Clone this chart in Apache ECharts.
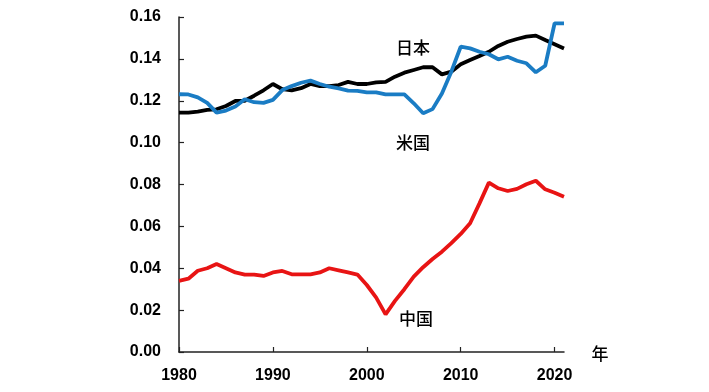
<!DOCTYPE html>
<html><head><meta charset="utf-8">
<script src="https://cdn.jsdelivr.net/npm/echarts@6/dist/echarts.min.js"></script>
<style>html,body{margin:0;padding:0;background:#fff}#c{width:709px;height:392px}</style>
</head><body><div id="c"></div>
<script>
const years = [];
for (let y = 1980; y <= 2021; y++) years.push(y);
const japan = [0.1143,0.1143,0.1148,0.1156,0.1159,0.1175,0.1199,0.1200,0.1224,0.1250,0.1280,0.1255,0.1250,0.1260,0.1280,0.1270,0.1270,0.1275,0.1290,0.1280,0.1280,0.1288,0.1290,0.1315,0.1334,0.1347,0.1360,0.1360,0.1326,0.1339,0.1374,0.1395,0.1414,0.1434,0.1462,0.1482,0.1495,0.1506,0.1511,0.1490,0.1470,0.1450];
const usa = [0.1231,0.1230,0.1216,0.1190,0.1143,0.1153,0.1172,0.1207,0.1193,0.1190,0.1204,0.1251,0.1270,0.1286,0.1296,0.1280,0.1267,0.1259,0.1248,0.1247,0.1240,0.1240,0.1230,0.1230,0.1230,0.1188,0.1140,0.1160,0.1235,0.1339,0.1458,0.1450,0.1434,0.1422,0.1398,0.1410,0.1391,0.1379,0.1336,0.1367,0.1570,0.1570];
const china = [0.0340,0.0350,0.0388,0.0400,0.0420,0.0400,0.0380,0.0370,0.0370,0.0363,0.0380,0.0387,0.0371,0.0371,0.0371,0.0380,0.0400,0.0390,0.0380,0.0370,0.0320,0.0260,0.0180,0.0244,0.0300,0.0360,0.0405,0.0444,0.0479,0.0520,0.0564,0.0615,0.0710,0.0809,0.0782,0.0769,0.0779,0.0801,0.0818,0.0777,0.0761,0.0742];
const yTicks = ['0.00','0.02','0.04','0.06','0.08','0.10','0.12','0.14','0.16'];
const xTicks = [1980,1990,2000,2010,2020];
const labels = {japan:'日本', usa:'米国', china:'中国', unit:'年'};

const pair = arr => years.map((y,i)=>[y,arr[i]]);
const chart = echarts.init(document.getElementById('c'), null, {renderer:'canvas'});
const tf = {fontFamily:'"Liberation Sans", Arial, sans-serif', fontWeight:'bold', fontSize:16, color:'#000'};
const cjk = {fontFamily:'"Noto Sans CJK JP", sans-serif', fontSize:17, fontWeight:500, fill:'#000'};
chart.setOption({
  animation:false,
  grid:{left:179, right:145, top:17, bottom:40},
  xAxis:{type:'value', min:1980, max:2021, interval:10,
    axisLine:{lineStyle:{color:'#222', width:1.5}},
    axisTick:{inside:true, length:5, lineStyle:{color:'#222', width:1.2}},
    splitLine:{show:false},
    axisLabel:Object.assign({margin:16, showMaxLabel:false, formatter:v=>xTicks.includes(v)?String(v):''}, tf)},
  yAxis:{type:'value', min:0, max:0.16, interval:0.02,
    axisLine:{show:true, lineStyle:{color:'#222', width:1.5}},
    axisTick:{show:true, inside:true, length:5, lineStyle:{color:'#222', width:1.2}},
    splitLine:{show:false},
    axisLabel:Object.assign({margin:18, formatter:v=>yTicks[Math.round(v/0.02)]}, tf)},
  series:[
    {type:'line', data:pair(japan), showSymbol:false, lineStyle:{color:'#000', width:3.8}, z:2},
    {type:'line', data:pair(usa), showSymbol:false, lineStyle:{color:'#1a7cc4', width:3.8}, z:3},
    {type:'line', data:pair(china), showSymbol:false, lineStyle:{color:'#e81414', width:3.8}, z:3}
  ],
  graphic:[
    {type:'text', x:413, y:48, style:Object.assign({text:labels.japan, align:'center', verticalAlign:'middle'}, cjk)},
    {type:'text', x:413, y:143, style:Object.assign({text:labels.usa, align:'center', verticalAlign:'middle'}, cjk)},
    {type:'text', x:416, y:319, style:Object.assign({text:labels.china, align:'center', verticalAlign:'middle'}, cjk)},
    {type:'text', x:600, y:354, style:Object.assign({text:labels.unit, align:'center', verticalAlign:'middle'}, cjk)}
  ]
});
</script></body></html>
